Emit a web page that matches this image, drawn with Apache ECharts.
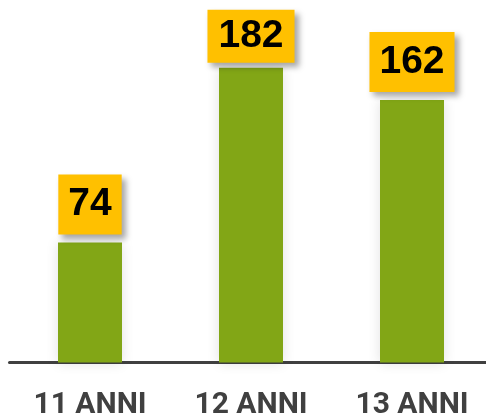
<!DOCTYPE html>
<html><head><meta charset="utf-8">
<script src="https://cdn.jsdelivr.net/npm/echarts@6/dist/echarts.min.js"></script>
<style>html,body{margin:0;padding:0;background:#fff}#c{width:486px;height:416px}</style>
</head><body><div id="c"></div>
<script>
const categories = ['11 ANNI', '12 ANNI', '13 ANNI'];
const values = [74, 182, 162];

const chart = echarts.init(document.getElementById('c'), null, {renderer: 'canvas'});
const data = values.map((v, i) => {
  const item = {value: v};
  if (i === 1) {
    item.label = {padding: [8, 11, 7, 11], distance: 5};
  }
  return item;
});
chart.setOption({
  animation: false,
  grid: {left: 9.5, right: -6.5, top: 38.5, bottom: 53.5, outerBoundsMode: 'none', containLabel: false},
  xAxis: {
    type: 'category',
    data: categories,
    axisLine: {lineStyle: {color: '#404040', width: 3}},
    axisTick: {show: false},
    axisLabel: {
      color: '#404040', fontSize: 30, fontWeight: 'bold',
      fontFamily: 'Roboto', margin: 28
    }
  },
  yAxis: {
    type: 'value', min: 0, max: 200,
    show: false, splitLine: {show: false}
  },
  series: [{
    type: 'bar',
    data: data,
    barWidth: 64,
    itemStyle: {
      color: '#82a616',
      shadowColor: 'rgba(0,0,0,0.12)', shadowBlur: 12
    },
    label: {
      show: true, position: 'top', distance: 8,
      color: '#000', fontSize: 39, fontWeight: 'bold',
      fontFamily: 'Liberation Sans', lineHeight: 38,
      backgroundColor: '#ffc000',
      padding: [11, 10, 11, 10],
      shadowColor: 'rgba(0,0,0,0.35)', shadowBlur: 6,
      shadowOffsetX: 4, shadowOffsetY: 4
    }
  }]
});
</script></body></html>
